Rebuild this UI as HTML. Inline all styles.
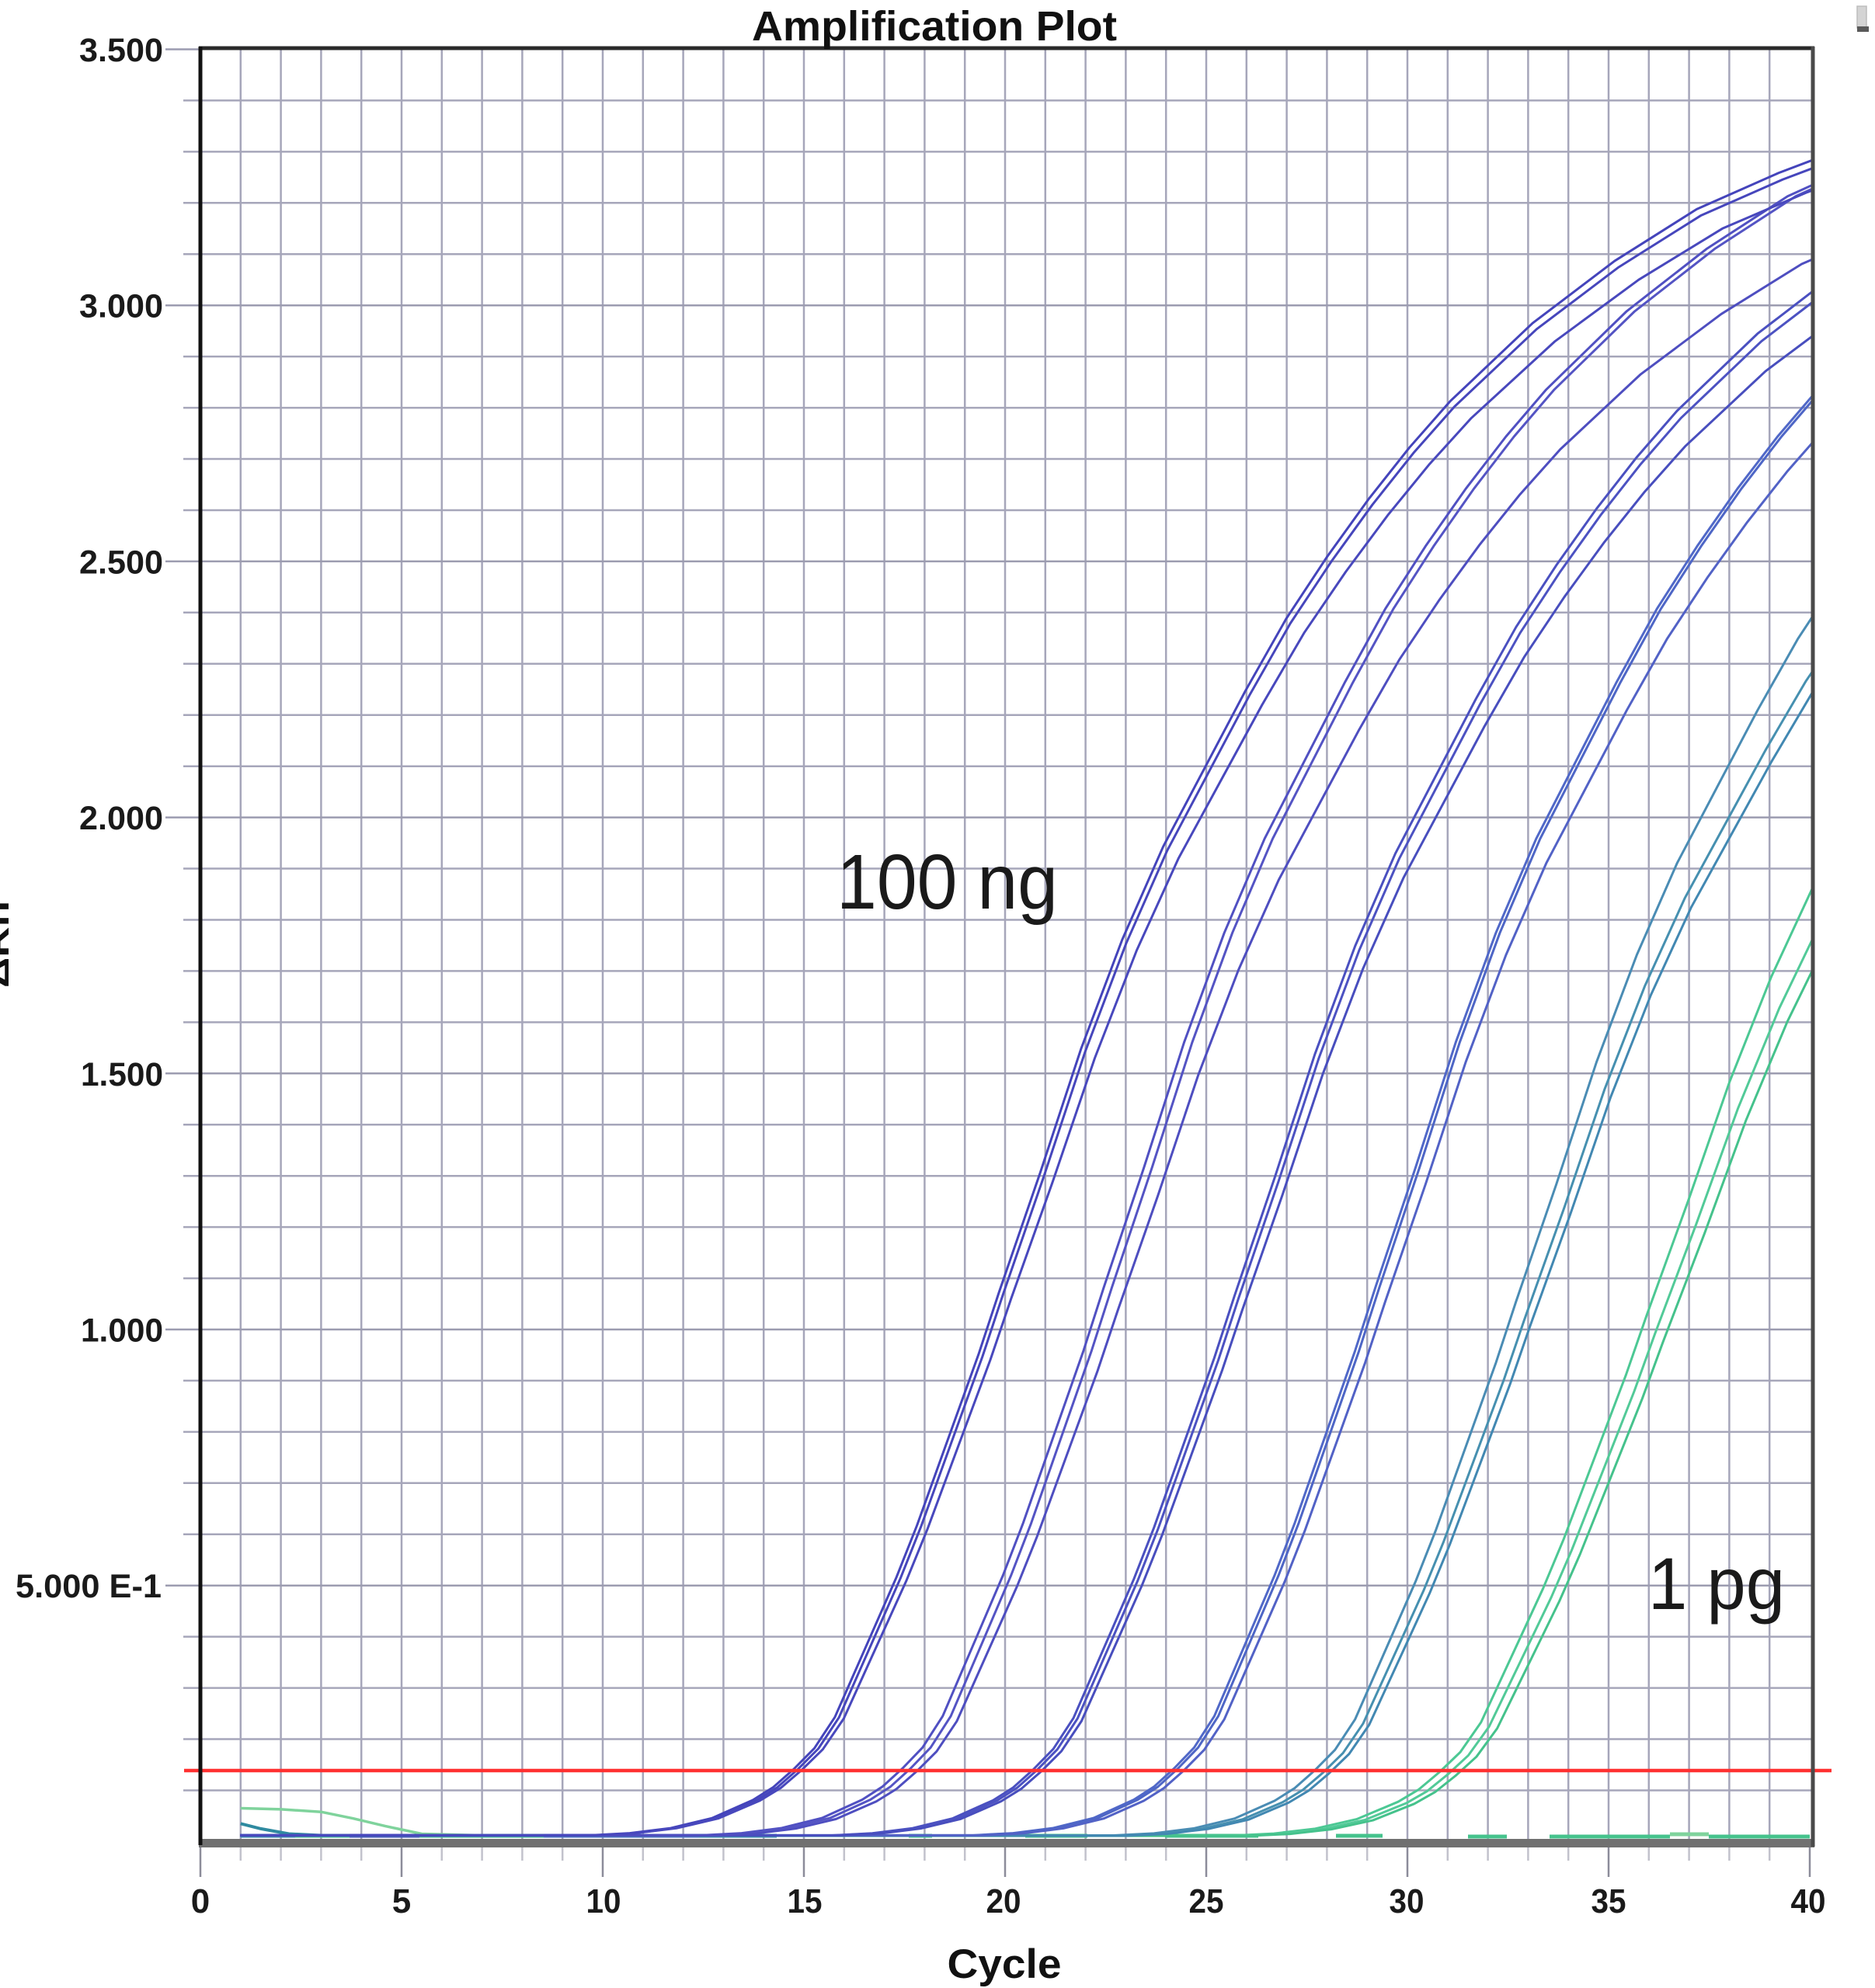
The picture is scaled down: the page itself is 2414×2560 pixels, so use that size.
<!DOCTYPE html>
<html>
<head>
<meta charset="utf-8">
<style>
html,body{margin:0;padding:0;background:#fff;}
svg{display:block;}
</style>
</head>
<body>
<svg width="2414" height="2560" viewBox="0 0 2414 2560" xmlns="http://www.w3.org/2000/svg" font-family="'Liberation Sans', Arial, sans-serif">
<defs>
  <path id="amp" fill="none" vector-effect="non-scaling-stroke" stroke-linejoin="round" d="M-2072,-7.9 L-259,-7.9 L-207.2,-10.6 L-155.4,-17.1 L-103.6,-29.7 L-51.8,-52.8 L-25.9,-69.2 L0,-92.3 L25.9,-118.7 L51.8,-158.3 L77.7,-217.6 L103.6,-276.9 L129.5,-336.3 L155.4,-402.2 L181.3,-474.8 L207.2,-547.3 L233.1,-619.8 L259,-699 L310.8,-850.6 L362.6,-1008.9 L414.4,-1147.4 L466.2,-1266 L518,-1365 L569.8,-1463.9 L621.6,-1556.2 L673.4,-1635.3 L725.2,-1707.8 L777,-1773.8 L828.8,-1833.1 L932.4,-1932 L1036,-2011.2 L1139.6,-2077.1 L1243.2,-2123.3 L1346.8,-2162.8 L1554,-2215.6"/>
  <clipPath id="plotclip" clipPathUnits="userSpaceOnUse">
    <rect x="309" y="64" width="2023" height="2306"/>
  </clipPath>
</defs>

<rect x="0" y="0" width="2414" height="2560" fill="#ffffff"/>

<!-- vertical gridlines -->
<path stroke="#a6a6ba" stroke-width="2.5" fill="none" d="M309.8,64V2371 M361.6,64V2371 M413.4,64V2371 M465.2,64V2371 M517,64V2371 M568.8,64V2371 M620.6,64V2371 M672.4,64V2371 M724.2,64V2371 M776,64V2371 M827.8,64V2371 M879.6,64V2371 M931.4,64V2371 M983.2,64V2371 M1035,64V2371 M1086.8,64V2371 M1138.6,64V2371 M1190.4,64V2371 M1242.2,64V2371 M1294,64V2371 M1345.8,64V2371 M1397.6,64V2371 M1449.4,64V2371 M1501.2,64V2371 M1553,64V2371 M1604.8,64V2371 M1656.6,64V2371 M1708.4,64V2371 M1760.2,64V2371 M1812,64V2371 M1863.8,64V2371 M1915.6,64V2371 M1967.4,64V2371 M2019.2,64V2371 M2071,64V2371 M2122.8,64V2371 M2174.6,64V2371 M2226.4,64V2371 M2278.2,64V2371"/>

<!-- x ticks below axis -->
<path stroke="#c2c2cc" stroke-width="2.5" fill="none" d="M309.8,2379V2396 M361.6,2379V2396 M413.4,2379V2396 M465.2,2379V2396 M568.8,2379V2396 M620.6,2379V2396 M672.4,2379V2396 M724.2,2379V2396 M827.8,2379V2396 M879.6,2379V2396 M931.4,2379V2396 M983.2,2379V2396 M1086.8,2379V2396 M1138.6,2379V2396 M1190.4,2379V2396 M1242.2,2379V2396 M1345.8,2379V2396 M1397.6,2379V2396 M1449.4,2379V2396 M1501.2,2379V2396 M1604.8,2379V2396 M1656.6,2379V2396 M1708.4,2379V2396 M1760.2,2379V2396 M1863.8,2379V2396 M1915.6,2379V2396 M1967.4,2379V2396 M2019.2,2379V2396 M2122.8,2379V2396 M2174.6,2379V2396 M2226.4,2379V2396 M2278.2,2379V2396"/>
<path stroke="#8c8c9a" stroke-width="2.5" fill="none" d="M258,2379V2417 M517,2379V2417 M776,2379V2417 M1035,2379V2417 M1294,2379V2417 M1553,2379V2417 M1812,2379V2417 M2071,2379V2417 M2330,2379V2417"/>

<!-- horizontal minor gridlines -->
<path stroke="#a6a6ba" stroke-width="2.5" fill="none" d="M236,2305.5H2334 M236,2239.5H2334 M236,2173.6H2334 M236,2107.6H2334 M236,1975.8H2334 M236,1909.8H2334 M236,1843.9H2334 M236,1777.9H2334 M236,1646.1H2334 M236,1580.1H2334 M236,1514.2H2334 M236,1448.2H2334 M236,1316.4H2334 M236,1250.4H2334 M236,1184.5H2334 M236,1118.5H2334 M236,986.7H2334 M236,920.7H2334 M236,854.8H2334 M236,788.8H2334 M236,657H2334 M236,591H2334 M236,525.1H2334 M236,459.1H2334 M236,327.3H2334 M236,261.3H2334 M236,195.4H2334 M236,129.4H2334"/>
<!-- horizontal major gridlines -->
<path stroke="#9c9cb0" stroke-width="2.5" fill="none" d="M213,2041.7H2334 M213,1712H2334 M213,1382.3H2334 M213,1052.6H2334 M213,722.9H2334 M213,393.2H2334 M213,63.5H258"/>

<!-- baseline colored segments -->
<g stroke-width="5" fill="none" stroke-linecap="butt">
  <path stroke="#3a84ac" d="M309.8,2364H380"/>
  <path stroke="#45c28c" d="M380,2364H450"/>
  <path stroke="#4444bb" d="M450,2364H540"/>
  <path stroke="#45c28c" d="M540,2364H700"/>
  <path stroke="#5068c8" d="M700,2364H900"/>
  <path stroke="#3a84ac" d="M900,2364H1000"/>
  <path stroke="#45c28c" d="M1170,2364H1200"/>
  <path stroke="#45c28c" d="M1320,2364H1400"/>
  <path stroke="#45c28c" d="M1500,2364H1620"/>
  <path stroke="#45c28c" d="M1720,2364H1780"/>
  <path stroke="#45c28c" d="M1890,2365H1940"/>
  <path stroke="#45c28c" d="M1995,2365H2150"/>
  <path stroke="#7fd39c" d="M2150,2362H2200"/>
  <path stroke="#45c28c" d="M2200,2365H2330"/>
</g>

<!-- early bumps -->
<polyline fill="none" stroke="#7fd39c" stroke-width="3.5" points="309.8,2328.5 361.6,2329.9 413.4,2333.2 454.8,2341.7 496.3,2351.6 542.9,2361.5 620.6,2363.5"/>
<polyline fill="none" stroke="#2f8aa0" stroke-width="4" points="309.8,2348.3 335.7,2354.9 372,2361.5 413.4,2363.5"/>

<!-- amplification curves -->
<g clip-path="url(#plotclip)" stroke-width="3">
  <!-- group 6 green (ct 30.8, 31.0, 31.2) -->
  <use href="#amp" stroke="#4cc894" transform="translate(1853.4,2371.4) scale(1.03,0.97)"/>
  <use href="#amp" stroke="#52ca98" transform="translate(1863.8,2371.4) scale(1.03,0.935)"/>
  <use href="#amp" stroke="#45c28c" transform="translate(1874.2,2371.4) scale(1.03,0.92)"/>
  <!-- group 5 teal (ct 27.7, 27.9, 28.05) -->
  <use href="#amp" stroke="#4a8cb4" transform="translate(1692.9,2371.4) scale(1.0,0.995)"/>
  <use href="#amp" stroke="#4690b0" transform="translate(1703.2,2371.4) scale(1.0,0.96)"/>
  <use href="#amp" stroke="#4288b2" transform="translate(1711,2371.4) scale(1.0,0.95)"/>
  <!-- group 4 (ct 24.2, 24.3, 24.45) -->
  <use href="#amp" stroke="#5068c8" transform="translate(1511.6,2371.4) scale(1.0,1.02)"/>
  <use href="#amp" stroke="#4e66c6" transform="translate(1516.7,2371.4) scale(1.0,1.02)"/>
  <use href="#amp" stroke="#5262c6" transform="translate(1524.5,2371.4) scale(1.0,0.995)"/>
  <!-- group 3 (ct 20.7, 20.8, 20.9) -->
  <use href="#amp" stroke="#4a50c0" transform="translate(1330.3,2371.4) scale(1.0,1.005)"/>
  <use href="#amp" stroke="#4c52c2" transform="translate(1335.4,2371.4) scale(1.0,1.0)"/>
  <use href="#amp" stroke="#484ebe" transform="translate(1340.6,2371.4) scale(1.0,0.98)"/>
  <!-- group 2 (ct 17.45, 17.65, 17.8) -->
  <use href="#amp" stroke="#5050c2" transform="translate(1161.9,2371.4) scale(1.0,1.02)"/>
  <use href="#amp" stroke="#5454c4" transform="translate(1172.3,2371.4) scale(1.0,1.02)"/>
  <use href="#amp" stroke="#4e4ec0" transform="translate(1180,2371.4) scale(1.0,0.978)"/>
  <!-- group 1 (ct 14.75, 14.85, 14.95) -->
  <use href="#amp" stroke="#4444bb" transform="translate(1022.05,2371.4) scale(1.02,1.012)"/>
  <use href="#amp" stroke="#4646bc" transform="translate(1027.2,2371.4) scale(1.02,1.008)"/>
  <use href="#amp" stroke="#4848bd" transform="translate(1032.4,2371.4) scale(1.04,1.0)"/>
</g>

<!-- threshold -->
<line x1="237" y1="2280" x2="2358" y2="2280" stroke="#ff3030" stroke-width="4.5"/>

<!-- plot borders -->
<line x1="256" y1="2373.5" x2="2336" y2="2373.5" stroke="#707070" stroke-width="11"/>
<line x1="256" y1="62" x2="2336" y2="62" stroke="#2a2a2a" stroke-width="5"/>
<line x1="258" y1="60" x2="258" y2="2376" stroke="#111111" stroke-width="5"/>
<line x1="2334" y1="60" x2="2334" y2="2378" stroke="#4a4a4a" stroke-width="5"/>

<!-- y tick labels -->
<g font-size="43" font-weight="bold" fill="#1a1a1a" text-anchor="end">
  <text x="210" y="79" textLength="108" lengthAdjust="spacingAndGlyphs">3.500</text>
  <text x="210" y="408.7" textLength="108" lengthAdjust="spacingAndGlyphs">3.000</text>
  <text x="210" y="738.4" textLength="108" lengthAdjust="spacingAndGlyphs">2.500</text>
  <text x="210" y="1068.1" textLength="108" lengthAdjust="spacingAndGlyphs">2.000</text>
  <text x="210" y="1397.8" textLength="106" lengthAdjust="spacingAndGlyphs">1.500</text>
  <text x="210" y="1727.5" textLength="106" lengthAdjust="spacingAndGlyphs">1.000</text>
  <text x="208" y="2057.2" textLength="188" lengthAdjust="spacingAndGlyphs">5.000 E-1</text>
</g>

<!-- x tick labels -->
<g font-size="44" font-weight="bold" fill="#1a1a1a" text-anchor="middle">
  <text x="258" y="2463">0</text>
  <text x="517" y="2463">5</text>
  <text x="777" y="2463" textLength="45" lengthAdjust="spacingAndGlyphs">10</text>
  <text x="1036" y="2463" textLength="45" lengthAdjust="spacingAndGlyphs">15</text>
  <text x="1292" y="2463" textLength="45" lengthAdjust="spacingAndGlyphs">20</text>
  <text x="1553" y="2463" textLength="45" lengthAdjust="spacingAndGlyphs">25</text>
  <text x="1811" y="2463" textLength="45" lengthAdjust="spacingAndGlyphs">30</text>
  <text x="2071" y="2463" textLength="45" lengthAdjust="spacingAndGlyphs">35</text>
  <text x="2328" y="2463" textLength="45" lengthAdjust="spacingAndGlyphs">40</text>
</g>

<!-- titles -->
<text x="1203" y="52" font-size="54" font-weight="bold" fill="#111" text-anchor="middle" textLength="470" lengthAdjust="spacingAndGlyphs">Amplification Plot</text>
<text x="1293" y="2547" font-size="53" font-weight="bold" fill="#111" text-anchor="middle" textLength="147" lengthAdjust="spacingAndGlyphs">Cycle</text>
<text transform="translate(11,1216) rotate(-90)" font-size="40" font-weight="bold" fill="#111" text-anchor="middle" textLength="112" lengthAdjust="spacingAndGlyphs">ΔRn</text>

<!-- annotations -->
<text x="1077" y="1170" font-size="100" fill="#1a1a1a" textLength="285" lengthAdjust="spacingAndGlyphs">100 ng</text>
<text x="2122" y="2072" font-size="95" fill="#1a1a1a" textLength="176" lengthAdjust="spacingAndGlyphs">1 pg</text>

<!-- top-right small icon -->
<rect x="2391" y="8" width="12" height="28" fill="#d4d4d4" stroke="#bdbdbd" stroke-width="1.5"/>
<rect x="2391" y="34" width="15" height="7" fill="#5a5a5a"/>
</svg>
</body>
</html>
